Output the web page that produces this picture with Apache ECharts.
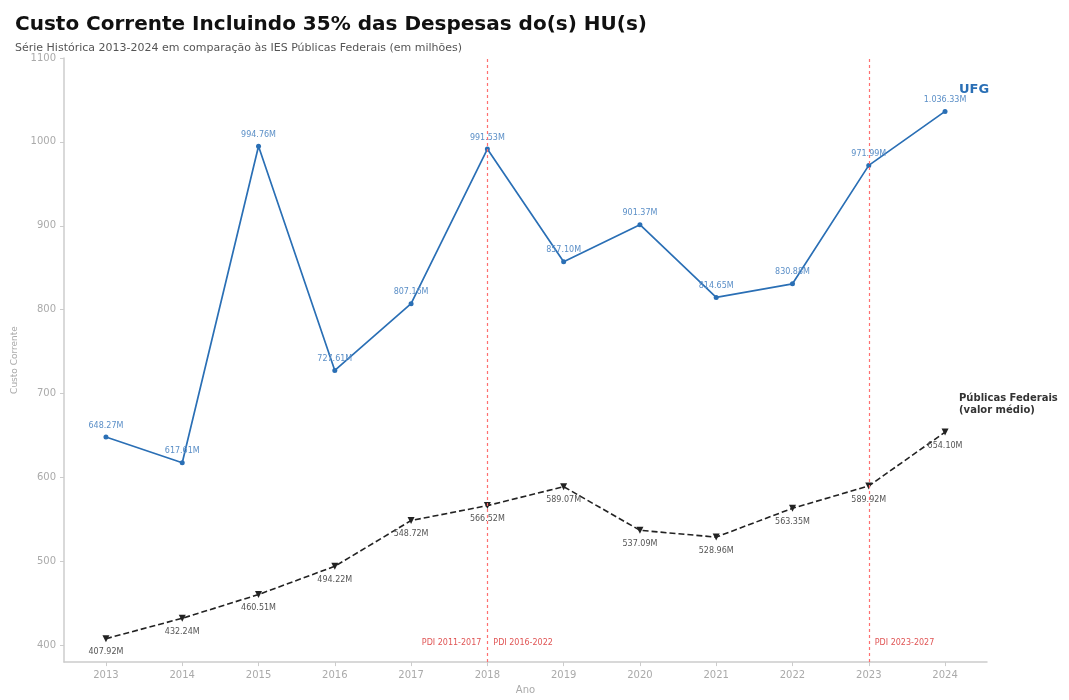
<!DOCTYPE html>
<html>
<head>
<meta charset="utf-8">
<script src="https://cdn.jsdelivr.net/npm/echarts@6/dist/echarts.min.js"></script>
<style>
  html, body { margin: 0; padding: 0; background: #fff; }
  #chart { width: 1069px; height: 700px; }
</style>
</head>
<body>
<div id="chart"></div>
<script>
// dados (em milhões)
const years = [2013, 2014, 2015, 2016, 2017, 2018, 2019, 2020, 2021, 2022, 2023, 2024]
const ufg = [648.27, 617.61, 994.76, 727.61, 807.16, 991.53, 857.10, 901.37, 814.65, 830.88, 971.99, 1036.33]
const federais = [407.92, 432.24, 460.51, 494.22, 548.72, 566.52, 589.07, 537.09, 528.96, 563.35, 589.92, 654.10]
const yTicks = [400, 500, 600, 700, 800, 900, 1000, 1100]
const pdiLines = [2018, 2023]
const pdiTexts = [
  { text: 'PDI 2011-2017', year: 2018, side: 'left' },
  { text: 'PDI 2016-2022', year: 2018, side: 'right' },
  { text: 'PDI 2023-2027', year: 2023, side: 'right' }
]

const font = 'DejaVu Sans'
const pdiColor = '#ff7070'

function fmt(v) {
  let s = v.toFixed(2)
  if (v >= 1000) {
    s = s.slice(0, s.length - 6) + '.' + s.slice(s.length - 6)
  }
  return s + 'M'
}

const chart = echarts.init(document.getElementById('chart'))

const option = {
  backgroundColor: '#fff',
  animation: false,
  textStyle: { fontFamily: font },
  title: [
    {
      text: 'Custo Corrente Incluindo 35% das Despesas do(s) HU(s)',
      left: 10,
      top: 10,
      textStyle: { fontFamily: font, fontSize: 20, fontWeight: 'bold', color: '#111' }
    },
    {
      text: 'Série Histórica 2013-2024 em comparação às IES Públicas Federais (em milhões)',
      left: 10,
      top: 38,
      textStyle: { fontFamily: font, fontSize: 11, fontWeight: 'normal', color: '#555' }
    }
  ],
  grid: {
    left: 64,
    right: 82,
    top: 58,
    bottom: 34
  },
  xAxis: {
    type: 'value',
    min: 2012.45,
    max: 2024.55,
    name: 'Ano',
    nameLocation: 'middle',
    nameGap: 22,
    nameTextStyle: { color: '#aaa', fontSize: 10, fontFamily: font },
    axisLine: { lineStyle: { color: '#ccc', width: 1.5 } },
    axisTick: { show: true, customValues: years, length: 4, lineStyle: { color: '#ccc' } },
    axisLabel: { customValues: years, color: '#aaa', fontSize: 10, margin: 8, formatter: v => String(v) },
    splitLine: { show: false }
  },
  yAxis: {
    type: 'value',
    min: 380,
    max: 1100,
    name: 'Custo Corrente',
    nameLocation: 'middle',
    nameGap: 40,
    nameTextStyle: { color: '#aaa', fontSize: 9, fontFamily: font },
    axisLine: { show: true, lineStyle: { color: '#ccc', width: 1.5 } },
    axisTick: { show: true, customValues: yTicks, length: 4, lineStyle: { color: '#ccc' } },
    axisLabel: { customValues: yTicks, color: '#aaa', fontSize: 10, margin: 8, formatter: v => String(v) },
    splitLine: { show: false }
  },
  series: [
    {
      name: 'UFG',
      type: 'line',
      data: years.map((y, i) => [y, ufg[i]]),
      lineStyle: { color: '#2a6fb5', width: 1.7 },
      itemStyle: { color: '#2a6fb5' },
      symbol: 'circle',
      symbolSize: 5,
      label: {
        show: true,
        position: 'top',
        distance: 5,
        fontSize: 8,
        color: '#5b8fc7',
        formatter: p => fmt(p.value[1])
      },
      endLabel: {
        show: true,
        formatter: 'UFG',
        fontSize: 13,
        fontWeight: 'bold',
        color: '#2a6fb5',
        offset: [6, -22]
      },
      z: 3
    },
    {
      name: 'Públicas Federais',
      type: 'line',
      data: years.map((y, i) => [y, federais[i]]),
      lineStyle: { color: '#222', width: 1.6, type: [6, 3] },
      itemStyle: { color: '#222' },
      symbol: 'triangle',
      symbolRotate: 180,
      symbolSize: 7,
      label: {
        show: true,
        position: 'bottom',
        distance: 6,
        fontSize: 8,
        color: '#555',
        formatter: p => fmt(p.value[1])
      },
      endLabel: {
        show: true,
        formatter: 'Públicas Federais\n(valor médio)',
        fontSize: 10,
        fontWeight: 'bold',
        color: '#333',
        lineHeight: 12,
        offset: [6, -28]
      },
      z: 2
    },
    {
      // linhas verticais dos PDIs
      name: 'PDI',
      type: 'line',
      data: [],
      itemStyle: { color: pdiColor },
      markLine: {
        silent: true,
        symbol: 'none',
        label: { show: false },
        lineStyle: { color: pdiColor, type: [3, 3], width: 1.2, opacity: 1 },
        emphasis: { disabled: true },
        data: pdiLines.map(y => ({ xAxis: y }))
      },
      markPoint: {
        silent: true,
        symbol: 'circle',
        symbolSize: 0,
        data: pdiTexts.map(t => ({
          coord: [t.year, 403],
          label: {
            show: true,
            position: t.side,
            distance: 6,
            formatter: t.text,
            fontSize: 8,
            color: '#e05555'
          }
        }))
      },
      z: 1
    }
  ]
}

chart.setOption(option)
</script>
</body>
</html>
